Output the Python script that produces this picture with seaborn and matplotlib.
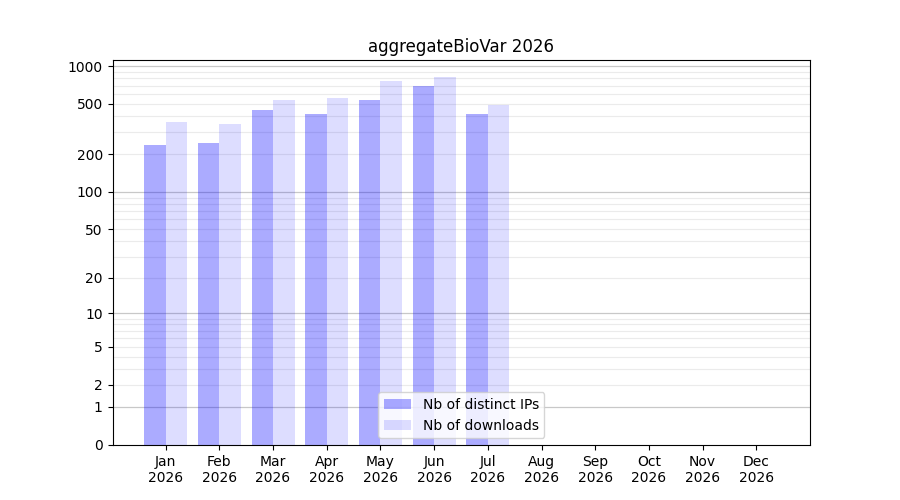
import numpy as np
import pandas as pd
import matplotlib
matplotlib.use("Agg")
import matplotlib.pyplot as plt
import seaborn as sns

months = ["Jan", "Feb", "Mar", "Apr", "May", "Jun", "Jul", "Aug", "Sep", "Oct", "Nov", "Dec"]
year = "2026"
data_months = ["Jan", "Feb", "Mar", "Apr", "May", "Jun", "Jul"]
distinct_ips = [236, 244, 447, 415, 536, 693, 415]
downloads = [359, 346, 536, 556, 760, 817, 490]
series_names = ["Nb of distinct IPs", "Nb of downloads"]
ytick_values = [0, 1, 2, 5, 10, 20, 50, 100, 200, 500, 1000]

df = pd.DataFrame({
    "month": data_months * 2,
    "value": distinct_ips + downloads,
    "series": [series_names[0]] * len(data_months) + [series_names[1]] * len(data_months),
})

fig, ax = plt.subplots(figsize=(9, 5), dpi=100)

def fwd(x):
    x = np.asarray(x, dtype=float)
    return np.log10(np.maximum(x, 0) + 1)

def inv(y):
    return 10 ** np.asarray(y, dtype=float) - 1

sns.barplot(data=df, x="month", y="value", hue="series", order=months,
            hue_order=series_names, palette=["#0000ff", "#0000ff"], saturation=1,
            width=0.8, ax=ax, legend=False)

alphas = [0.33, 0.135]
for cont, a, name in zip(ax.containers, alphas, series_names):
    for p in cont.patches:
        p.set_alpha(a)
        p.set_edgecolor("none")
    cont.set_label(name)

ax.set_yscale("function", functions=(fwd, inv))
ax.set_ylim(0, 1116)
ax.set_xlim(-0.99, 12.0)
ax.set_yticks(ytick_values)
ax.set_yticklabels([str(v) for v in ytick_values])
ax.minorticks_off()

# gridlines
for dec in [1, 10, 100, 1000]:
    ax.axhline(dec, color="#c8c8c8", lw=0.9, zorder=0.5)
    if dec < 1000:
        for m in range(2, 10):
            ax.axhline(dec * m, color="#ebebeb", lw=0.8, zorder=0.4)

ax.set_xticks(range(len(months)))
ax.set_xticklabels([f"{m}\n{year}" for m in months])
ax.set_xlabel("")
ax.set_ylabel("")
ax.set_title("aggregateBioVar 2026")

handles = [c.patches[0] for c in ax.containers]
import matplotlib.patches as mpatches
leg_handles = [mpatches.Patch(facecolor="#0000ff", alpha=a, edgecolor="none") for a in alphas]
ax.legend(leg_handles, series_names, loc="lower center")

fig.subplots_adjust(left=0.125, right=0.9, top=0.88, bottom=0.11)
fig.savefig("out.png", dpi=100)
